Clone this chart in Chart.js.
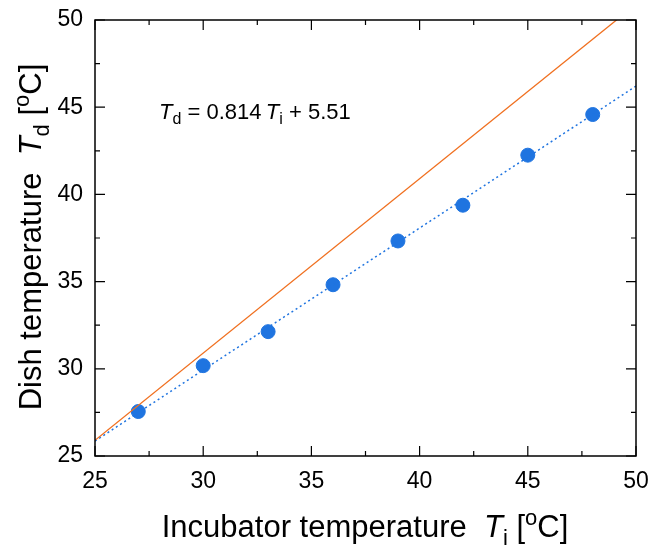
<!DOCTYPE html>
<html>
<head>
<meta charset="utf-8">
<script src="https://cdn.jsdelivr.net/npm/chart.js@4"></script>
<style>
  html, body { margin: 0; padding: 0; background: #fff; }
  #wrap { width: 648px; height: 546px; }
</style>
</head>
<body>
<div id="wrap"><canvas id="chart" width="648" height="546"></canvas></div>
<script>
// measured points
const incubatorT = [27, 30, 33, 36, 39, 42, 45, 48];
const dishT = [27.55, 30.18, 32.13, 34.82, 37.33, 39.38, 42.25, 44.58];

// fit line T_d = 0.814 T_i + 5.51 (end points)
const fitX = [25, 50];
const fitY = [25.86, 46.21];

// orange reference line
const refX = [25, 50];
const refY = [25.9, 50.9];

const xTicks = [25, 30, 35, 40, 45, 50];
const yTicks = [25, 30, 35, 40, 45, 50];
const minorTicks = [27.5, 32.5, 37.5, 42.5, 47.5];

const FONT = '"Liberation Sans", Arial, sans-serif';
const BLUE = '#1f74e0';
const ORANGE = '#f07020';

function toPoints(xs, ys) {
    return xs.map((x, i) => ({ x: x, y: ys[i] }));
}

// draw a row of text pieces (normal / italic / sub / sup), centred on x
function drawRich(ctx, parts, x, y, align) {
    let total = 0;
    parts.forEach(p => {
        ctx.font = (p.italic ? 'italic ' : '') + p.size + 'px ' + FONT;
        p.w = ctx.measureText(p.t).width;
        total += p.w;
    });
    let cx = align === 'left' ? x : x - total / 2;
    parts.forEach(p => {
        ctx.font = (p.italic ? 'italic ' : '') + p.size + 'px ' + FONT;
        ctx.fillText(p.t, cx, y + (p.dy || 0));
        cx += p.w;
    });
}

const framePlugin = {
    id: 'frame',
    afterDatasetsDraw(chart) {
        const ctx = chart.ctx;
        const a = chart.chartArea;
        const xs = chart.scales.x;
        const ys = chart.scales.y;
        ctx.save();
        ctx.strokeStyle = '#000';
        ctx.lineWidth = 1.5;
        ctx.strokeRect(a.left, a.top, a.right - a.left, a.bottom - a.top);

        ctx.lineWidth = 1.2;
        ctx.beginPath();
        xTicks.concat(minorTicks).forEach(v => {
            const len = minorTicks.includes(v) ? 5 : 10;
            const px = xs.getPixelForValue(v);
            ctx.moveTo(px, a.bottom); ctx.lineTo(px, a.bottom - len);
            ctx.moveTo(px, a.top); ctx.lineTo(px, a.top + len);
            const py = ys.getPixelForValue(v);
            ctx.moveTo(a.left, py); ctx.lineTo(a.left + len, py);
            ctx.moveTo(a.right, py); ctx.lineTo(a.right - len, py);
        });
        ctx.stroke();

        ctx.fillStyle = '#000';
        ctx.textBaseline = 'alphabetic';

        // equation
        drawRich(ctx, [
            { t: 'T', size: 22, italic: true },
            { t: 'd', size: 16, dy: 5 },
            { t: ' = 0.814\u2009', size: 22 },
            { t: 'T', size: 22, italic: true },
            { t: 'i', size: 16, dy: 5 },
            { t: ' + 5.51', size: 22 }
        ], 159, 119, 'left');

        // x title
        drawRich(ctx, [
            { t: 'Incubator temperature  ', size: 31 },
            { t: 'T', size: 31, italic: true },
            { t: 'i', size: 22, dy: 8 },
            { t: ' [', size: 31 },
            { t: 'o', size: 22, dy: -12 },
            { t: 'C]', size: 31 }
        ], 365, 537, 'center');

        // y title
        ctx.translate(41, 237);
        ctx.rotate(-Math.PI / 2);
        drawRich(ctx, [
            { t: 'Dish temperature  ', size: 31 },
            { t: 'T', size: 31, italic: true },
            { t: 'd', size: 22, dy: 8 },
            { t: ' [', size: 31 },
            { t: 'o', size: 22, dy: -12 },
            { t: 'C]', size: 31 }
        ], 0, 0, 'center');
        ctx.restore();
    }
};

new Chart(document.getElementById('chart'), {
    type: 'scatter',
    data: {
        datasets: [
            {
                data: toPoints(refX, refY),
                showLine: true,
                borderColor: ORANGE,
                borderWidth: 1.3,
                pointRadius: 0
            },
            {
                data: toPoints(fitX, fitY),
                showLine: true,
                borderColor: BLUE,
                borderWidth: 1.5,
                borderDash: [2, 3],
                pointRadius: 0
            },
            {
                data: toPoints(incubatorT, dishT),
                backgroundColor: BLUE,
                borderColor: BLUE,
                pointRadius: 7,
                showLine: false
            }
        ]
    },
    options: {
        responsive: false,
        animation: false,
        layout: { padding: { left: 0, top: 20, right: 12, bottom: 0 } },
        plugins: { legend: { display: false }, tooltip: { enabled: false } },
        scales: {
            x: {
                type: 'linear', min: 25, max: 50,
                afterFit: s => { s.height = 90; s.paddingRight = 0; s.paddingLeft = 0; },
                afterBuildTicks: s => { s.ticks = xTicks.map(v => ({ value: v })); },
                grid: { display: false },
                border: { display: false },
                ticks: { color: '#000', padding: 4, font: { family: FONT, size: 23 }, maxRotation: 0 }
            },
            y: {
                type: 'linear', min: 25, max: 50,
                afterFit: s => { s.width = 95; s.paddingTop = 0; s.paddingBottom = 0; },
                afterBuildTicks: s => { s.ticks = yTicks.map(v => ({ value: v })); },
                grid: { display: false },
                border: { display: false },
                ticks: { color: '#000', padding: 4, font: { family: FONT, size: 23 } }
            }
        }
    },
    plugins: [framePlugin]
});
</script>
</body>
</html>
